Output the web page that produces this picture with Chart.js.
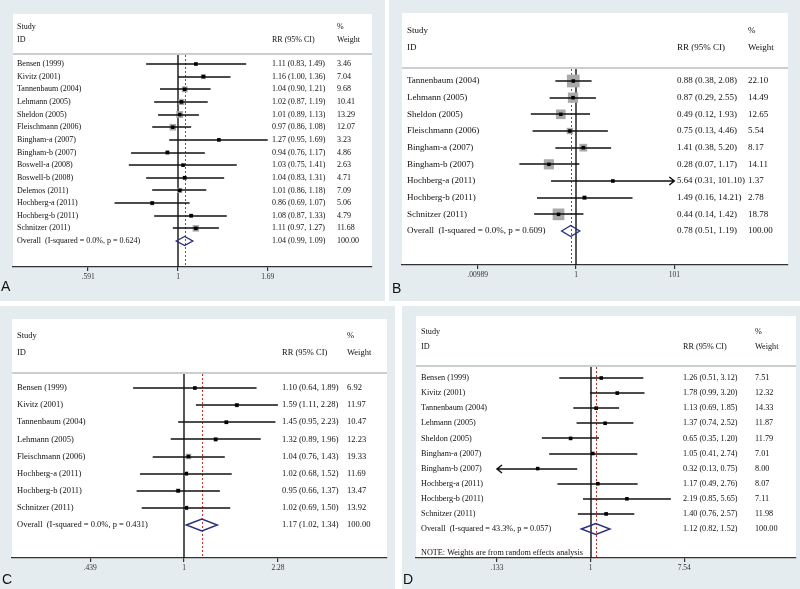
<!DOCTYPE html>
<html>
<head>
<meta charset="utf-8">
<script src="https://cdn.jsdelivr.net/npm/chart.js@4.4.1/dist/chart.umd.min.js"></script>
<style>
  body { margin: 0; background: #fff; width: 800px; height: 589px; position: relative; overflow: hidden; }
  .panel { position: absolute; background: #e4ecef; }
  .panel canvas { position: absolute; left: 0; top: 0; }
  .tag { position: absolute; font: 14px "Liberation Sans", Arial, sans-serif; line-height: 1; color: #111; }
</style>
</head>
<body>
<div class="panel" style="left:0;top:0;width:385px;height:301px"><canvas id="cA" width="385" height="301"></canvas></div>
<div class="panel" style="left:389px;top:0;width:411px;height:301px"><canvas id="cB" width="411" height="301"></canvas></div>
<div class="panel" style="left:0;top:306px;width:395px;height:283px"><canvas id="cC" width="395" height="283"></canvas></div>
<div class="panel" style="left:402px;top:306px;width:398px;height:283px"><canvas id="cD" width="398" height="283"></canvas></div>
<div class="tag" style="left:1px;top:279px">A</div>
<div class="tag" style="left:392px;top:281px">B</div>
<div class="tag" style="left:2px;top:572px">C</div>
<div class="tag" style="left:403px;top:572px">D</div>
<script>
// ---- panel A ----
var studiesA = ['Bensen (1999)', 'Kivitz (2001)', 'Tannenbaum (2004)', 'Lehmann (2005)', 'Sheldon (2005)',
  'Fleischmann (2006)', 'Bingham-a (2007)', 'Bingham-b (2007)', 'Boswell-a (2008)', 'Boswell-b (2008)',
  'Delemos (2011)', 'Hochberg-a (2011)', 'Hochberg-b (2011)', 'Schnitzer (2011)'];
var rrA = [1.11, 1.16, 1.04, 1.02, 1.01, 0.97, 1.27, 0.94, 1.03, 1.04, 1.01, 0.86, 1.08, 1.11];
var lowA = [0.83, 1.00, 0.90, 0.87, 0.89, 0.86, 0.95, 0.76, 0.75, 0.83, 0.86, 0.69, 0.87, 0.97];
var highA = [1.49, 1.36, 1.21, 1.19, 1.13, 1.08, 1.69, 1.17, 1.41, 1.31, 1.18, 1.07, 1.33, 1.27];
var weightA = [3.46, 7.04, 9.68, 10.41, 13.29, 12.07, 3.23, 4.86, 2.63, 4.71, 7.09, 5.06, 4.79, 11.68];
var overallA = [1.04, 0.99, 1.09];
var overallLabelA = 'Overall  (I-squared = 0.0%, p = 0.624)';
var ticksA = [0.591, 1, 1.69];
var tickLabelsA = ['.591', '1', '1.69'];

// ---- panel B ----
var studiesB = ['Tannenbaum (2004)', 'Lehmann (2005)', 'Sheldon (2005)', 'Fleischmann (2006)', 'Bingham-a (2007)',
  'Bingham-b (2007)', 'Hochberg-a (2011)', 'Hochberg-b (2011)', 'Schnitzer (2011)'];
var rrB = [0.88, 0.87, 0.49, 0.75, 1.41, 0.28, 5.64, 1.49, 0.44];
var lowB = [0.38, 0.29, 0.12, 0.13, 0.38, 0.07, 0.31, 0.16, 0.14];
var highB = [2.08, 2.55, 1.93, 4.46, 5.20, 1.17, 101.10, 14.21, 1.42];
var weightB = [22.10, 14.49, 12.65, 5.54, 8.17, 14.11, 1.37, 2.78, 18.78];
var overallB = [0.78, 0.51, 1.19];
var overallLabelB = 'Overall  (I-squared = 0.0%, p = 0.609)';
var ticksB = [0.00989, 1, 101];
var tickLabelsB = ['.00989', '1', '101'];

// ---- panel C ----
var studiesC = ['Bensen (1999)', 'Kivitz (2001)', 'Tannenbaum (2004)', 'Lehmann (2005)', 'Fleischmann (2006)',
  'Hochberg-a (2011)', 'Hochberg-b (2011)', 'Schnitzer (2011)'];
var rrC = [1.10, 1.59, 1.45, 1.32, 1.04, 1.02, 0.95, 1.02];
var lowC = [0.64, 1.11, 0.95, 0.89, 0.76, 0.68, 0.66, 0.69];
var highC = [1.89, 2.28, 2.23, 1.96, 1.43, 1.52, 1.37, 1.50];
var weightC = [6.92, 11.97, 10.47, 12.23, 19.33, 11.69, 13.47, 13.92];
var overallC = [1.17, 1.02, 1.34];
var overallLabelC = 'Overall  (I-squared = 0.0%, p = 0.431)';
var ticksC = [0.439, 1, 2.28];
var tickLabelsC = ['.439', '1', '2.28'];

// ---- panel D ----
var studiesD = ['Bensen (1999)', 'Kivitz (2001)', 'Tannenbaum (2004)', 'Lehmann (2005)', 'Sheldon (2005)',
  'Bingham-a (2007)', 'Bingham-b (2007)', 'Hochberg-a (2011)', 'Hochberg-b (2011)', 'Schnitzer (2011)'];
var rrD = [1.26, 1.78, 1.13, 1.37, 0.65, 1.05, 0.32, 1.17, 2.19, 1.40];
var lowD = [0.51, 0.99, 0.69, 0.74, 0.35, 0.41, 0.13, 0.49, 0.85, 0.76];
var highD = [3.12, 3.20, 1.85, 2.52, 1.20, 2.74, 0.75, 2.76, 5.65, 2.57];
var weightD = [7.51, 12.32, 14.33, 11.87, 11.79, 7.01, 8.00, 8.07, 7.11, 11.98];
var overallD = [1.12, 0.82, 1.52];
var overallLabelD = 'Overall  (I-squared = 43.3%, p = 0.057)';
var ticksD = [0.133, 1, 7.54];
var tickLabelsD = ['.133', '1', '7.54'];
var noteD = 'NOTE: Weights are from random effects analysis';

var SERIF = '"Liberation Serif", "DejaVu Serif", serif';

function fmt(v) { return v.toFixed(2); }

function forestPlugin(p) {
  return {
    id: 'forest',
    beforeDraw: function (chart) {
      var a = chart.chartArea, c = chart.ctx;
      c.save();
      c.fillStyle = '#ffffff';
      c.fillRect(a.left, a.top, a.right - a.left, a.bottom - a.top);
      c.restore();
    },
    beforeDatasetsDraw: function (chart) {
      var a = chart.chartArea, c = chart.ctx, x = chart.scales.x;
      c.save();
      // header separator
      c.strokeStyle = '#b9c0c3';
      c.lineWidth = 1.5;
      c.beginPath();
      c.moveTo(a.left, p.hdr[2]);
      c.lineTo(a.right, p.hdr[2]);
      c.stroke();
      // line of no effect
      var x1 = Math.round(x.getPixelForValue(0));
      c.strokeStyle = '#111';
      c.lineWidth = 1.4;
      c.beginPath();
      c.moveTo(x1, p.hdr[2] + 1);
      c.lineTo(x1, a.bottom);
      c.stroke();
      // overall effect line
      var xo = Math.round(x.getPixelForValue(Math.log(p.overall[0]))) + 0.5;
      c.strokeStyle = '#d42a2a';
      c.lineWidth = 1;
      c.setLineDash([2, 2]);
      c.beginPath();
      c.moveTo(xo, p.hdr[2] + 1);
      c.lineTo(xo, a.bottom);
      c.stroke();
      c.restore();
    },
    afterDatasetDraw: function (chart, args) {
      if (args.index !== 0) return;
      var c = chart.ctx, x = chart.scales.x, y = chart.scales.y;
      var tMin = Math.log(p.ticks[0]), tMax = Math.log(p.ticks[p.ticks.length - 1]);
      c.save();
      c.strokeStyle = '#111';
      c.lineWidth = 1.5;
      for (var i = 0; i < p.rr.length; i++) {
        var lo = Math.log(p.low[i]), hi = Math.log(p.high[i]);
        var cutLo = lo < tMin - 1e-4, cutHi = hi > tMax + 1e-4;
        var xl = x.getPixelForValue(cutLo ? tMin : lo);
        var xr = x.getPixelForValue(cutHi ? tMax : hi);
        var yy = Math.round(y.getPixelForValue(i));
        c.beginPath();
        c.moveTo(xl, yy);
        c.lineTo(xr, yy);
        if (cutHi) {
          c.moveTo(xr - 5, yy - 4); c.lineTo(xr, yy); c.lineTo(xr - 5, yy + 4);
        }
        if (cutLo) {
          c.moveTo(xl + 5, yy - 4); c.lineTo(xl, yy); c.lineTo(xl + 5, yy + 4);
        }
        c.stroke();
      }
      c.restore();
    },
    afterDatasetsDraw: function (chart) {
      var c = chart.ctx, x = chart.scales.x, y = chart.scales.y;
      var n = p.rr.length, yy = Math.round(y.getPixelForValue(n)), h = p.diamondH / 2;
      c.save();
      c.strokeStyle = '#27317f';
      c.lineWidth = 1.4;
      c.beginPath();
      c.moveTo(x.getPixelForValue(Math.log(p.overall[1])), yy);
      c.lineTo(x.getPixelForValue(Math.log(p.overall[0])), yy - h);
      c.lineTo(x.getPixelForValue(Math.log(p.overall[2])), yy);
      c.lineTo(x.getPixelForValue(Math.log(p.overall[0])), yy + h);
      c.closePath();
      c.stroke();
      c.restore();
    },
    afterDraw: function (chart) {
      var c = chart.ctx, y = chart.scales.y;
      var room = p.cols[2] - p.cols[1] - 3;
      c.save();
      c.fillStyle = '#111';
      c.font = p.font + 'px ' + SERIF;
      c.textBaseline = 'middle';
      c.textAlign = 'left';
      c.fillText('Study', p.cols[0], p.hdr[0]);
      c.fillText('ID', p.cols[0], p.hdr[1]);
      c.fillText('RR (95% CI)', p.cols[1], p.hdr[1]);
      c.fillText('%', p.cols[2], p.hdr[0]);
      c.fillText('Weight', p.cols[2], p.hdr[1]);
      for (var i = 0; i < p.rr.length; i++) {
        var yy = y.getPixelForValue(i);
        c.fillText(p.studies[i], p.cols[0], yy);
        c.fillText(fmt(p.rr[i]) + ' (' + fmt(p.low[i]) + ', ' + fmt(p.high[i]) + ')', p.cols[1], yy, room);
        c.fillText(fmt(p.weight[i]), p.cols[2], yy);
      }
      var yo = y.getPixelForValue(p.rr.length);
      c.fillText(p.overallLabel, p.cols[0], yo);
      c.fillText(fmt(p.overall[0]) + ' (' + fmt(p.overall[1]) + ', ' + fmt(p.overall[2]) + ')', p.cols[1], yo, room);
      c.fillText('100.00', p.cols[2], yo);
      if (p.note) c.fillText(p.note, p.cols[0], p.noteY);
      c.restore();
    }
  };
}

function makeForest(id, p) {
  var n = p.rr.length;
  var step = (p.last - p.first) / n;
  var pts = p.rr.map(function (v, i) { return { x: Math.log(v), y: i }; });
  new Chart(document.getElementById(id), {
    type: 'scatter',
    data: {
      datasets: [{
        // weight boxes (drawn first)
        data: pts,
        order: 2,
        pointStyle: 'rect',
        backgroundColor: '#a9a9a9',
        borderWidth: 0,
        pointRadius: function (ctx) { return p.box * Math.sqrt(p.weight[ctx.dataIndex]) / Math.SQRT2; }
      }, {
        // point estimates (on top)
        data: pts,
        order: 1,
        pointStyle: 'rect',
        backgroundColor: '#000',
        borderWidth: 0,
        pointRadius: 2.5
      }]
    },
    options: {
      responsive: false,
      animation: false,
      devicePixelRatio: 1,
      layout: { padding: { left: p.area[0], right: p.w - p.area[2], top: p.area[1], bottom: 0 } },
      plugins: { legend: { display: false }, tooltip: { enabled: false } },
      scales: {
        x: {
          type: 'linear',
          min: (p.area[0] - p.oneX) / p.ppu,
          max: (p.area[2] - p.oneX) / p.ppu,
          afterBuildTicks: function (s) { s.ticks = p.ticks.map(function (v) { return { value: Math.log(v) }; }); },
          afterFit: function (s) { s.height = p.h - p.area[3]; },
          border: { color: '#333', width: 1.3 },
          grid: { drawOnChartArea: false, drawTicks: true, tickLength: 4, color: '#333', lineWidth: 1.2 },
          ticks: {
            autoSkip: false, maxRotation: 0, padding: 2,
            font: { family: SERIF, size: 7.5 }, color: '#333',
            callback: function (v, i) { return p.tickLabels[i]; }
          }
        },
        y: {
          type: 'linear', display: false, reverse: true,
          min: (p.area[1] - p.first) / step,
          max: (p.area[3] - p.first) / step
        }
      }
    },
    plugins: [forestPlugin(p)]
  });
}

makeForest('cA', {
  studies: studiesA, rr: rrA, low: lowA, high: highA, weight: weightA, overall: overallA,
  overallLabel: overallLabelA, ticks: ticksA, tickLabels: tickLabelsA,
  w: 385, h: 301, area: [13, 14, 372, 267], oneX: 178, ppu: 171,
  first: 64, last: 241, hdr: [27, 40, 54], cols: [17, 272, 337], font: 8, box: 1.9, diamondH: 9
});
makeForest('cB', {
  studies: studiesB, rr: rrB, low: lowB, high: highB, weight: weightB, overall: overallB,
  overallLabel: overallLabelB, ticks: ticksB, tickLabels: tickLabelsB,
  w: 411, h: 301, area: [13, 13, 399, 265], oneX: 187, ppu: 21.3,
  first: 81, last: 231, hdr: [31, 48, 68], cols: [18, 288, 359], font: 9, box: 2.7, diamondH: 11
});
makeForest('cC', {
  studies: studiesC, rr: rrC, low: lowC, high: highC, weight: weightC, overall: overallC,
  overallLabel: overallLabelC, ticks: ticksC, tickLabels: tickLabelsC,
  w: 395, h: 283, area: [12, 13, 387, 252], oneX: 184, ppu: 114,
  first: 82, last: 219, hdr: [30, 47, 67], cols: [17, 282, 347], font: 8.5, box: 1.25, diamondH: 12
});
makeForest('cD', {
  studies: studiesD, rr: rrD, low: lowD, high: highD, weight: weightD, overall: overallD,
  overallLabel: overallLabelD, ticks: ticksD, tickLabels: tickLabelsD, note: noteD, noteY: 247,
  w: 398, h: 283, area: [14, 10, 395, 252], oneX: 189, ppu: 46.5,
  first: 72, last: 223, hdr: [26, 41, 60], cols: [19, 281, 353], font: 8.2, box: 1.0, diamondH: 11
});
</script>
</body>
</html>
